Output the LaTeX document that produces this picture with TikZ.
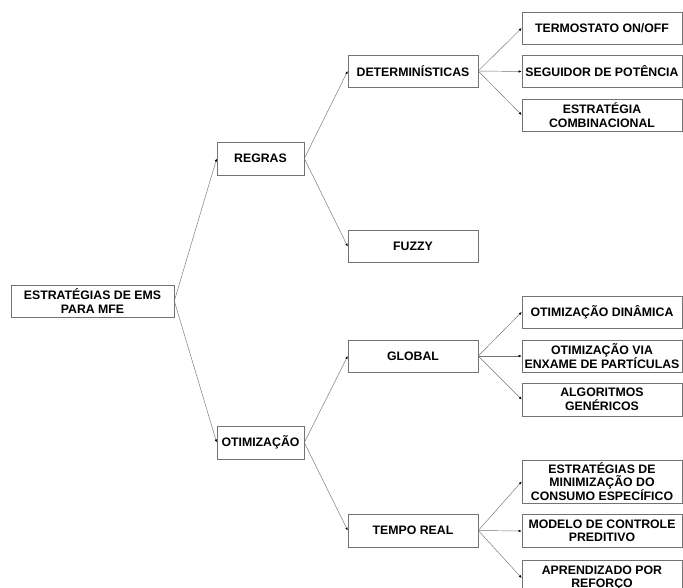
\documentclass[tikz,border=0pt]{standalone}
\usepackage{fontspec}
\setmainfont{Liberation Sans}
\usetikzlibrary{arrows.meta}
\begin{document}
\begin{tikzpicture}[x=1pt,y=-1pt,
  box/.style={draw=black!55,line width=0.6pt,fill=white,align=center,inner sep=0pt,
    font=\bfseries\fontsize{12.3}{13.5}\selectfont},
  conn/.style={draw=black!55,line width=0.45pt,-{Latex[length=3pt,width=2.4pt,black]}}
]
\useasboundingbox (0,0) rectangle (683,587);
\node[box,minimum width=163pt,minimum height=32pt] (root) at (92.5,301) {ESTRATÉGIAS DE EMS\\PARA MFE};
\node[box,minimum width=87pt,minimum height=33pt] (reg) at (260.5,158.5) {REGRAS};
\node[box,minimum width=87pt,minimum height=33pt] (oti) at (260.5,442.5) {OTIMIZAÇÃO};
\node[box,minimum width=130pt,minimum height=32pt] (det) at (413,71) {DETERMINÍSTICAS};
\node[box,minimum width=130pt,minimum height=32pt] (fuz) at (413,246.5) {FUZZY};
\node[box,minimum width=130pt,minimum height=32pt] (glo) at (413,356) {GLOBAL};
\node[box,minimum width=130pt,minimum height=33pt] (tem) at (413,530.5) {TEMPO REAL};
\node[box,minimum width=160pt,minimum height=32pt] (ter) at (602,28) {TERMOSTATO ON/OFF};
\node[box,minimum width=160pt,minimum height=32pt] (seg) at (602,71.5) {SEGUIDOR DE POTÊNCIA};
\node[box,minimum width=160pt,minimum height=32pt] (com) at (602,115) {ESTRATÉGIA\\COMBINACIONAL};
\node[box,minimum width=160pt,minimum height=32pt] (din) at (602,312) {OTIMIZAÇÃO DINÂMICA};
\node[box,minimum width=160pt,minimum height=32pt] (via) at (602,356) {OTIMIZAÇÃO VIA\\ENXAME DE PARTÍCULAS};
\node[box,minimum width=160pt,minimum height=33pt] (alg) at (602,399.5) {ALGORITMOS\\GENÉRICOS};
\node[box,minimum width=160pt,minimum height=43pt] (min) at (602,481.5) {ESTRATÉGIAS DE\\MINIMIZAÇÃO DO\\CONSUMO ESPECÍFICO};
\node[box,minimum width=160pt,minimum height=33pt] (mod) at (602,531) {MODELO DE CONTROLE\\PREDITIVO};
\node[box,minimum width=160pt,minimum height=36pt] (apr) at (602,578) {APRENDIZADO POR\\REFORÇO};
\foreach \a/\b in {root/reg,root/oti,reg/det,reg/fuz,oti/glo,oti/tem,det/ter,det/seg,det/com,glo/din,glo/via,glo/alg,tem/min,tem/mod,tem/apr}
  \draw[conn] (\a.east) -- (\b.west);
\end{tikzpicture}
\end{document}
